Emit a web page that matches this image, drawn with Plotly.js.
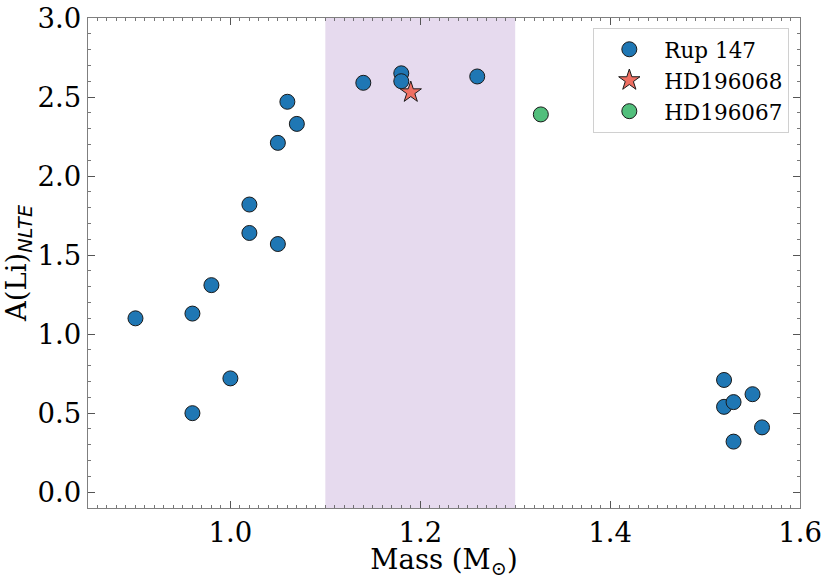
<!DOCTYPE html>
<html>
<head>
<meta charset="utf-8">
<script src="https://cdn.plot.ly/plotly-3.0.1.min.js"></script>
<style>html,body{margin:0;padding:0;background:#fff;}#chart{width:830px;height:580px;}</style>
</head>
<body>
<div id="chart"></div>
<script>
// Rup 147 members
const rupMass = [0.90, 0.96, 0.96, 0.98, 1.00, 1.02, 1.02, 1.05, 1.05, 1.06, 1.07, 1.14, 1.18, 1.18, 1.26, 1.52, 1.52, 1.53, 1.53, 1.55, 1.56];
const rupLi   = [1.10, 1.13, 0.50, 1.31, 0.72, 1.82, 1.64, 1.57, 2.21, 2.47, 2.33, 2.59, 2.65, 2.60, 2.63, 0.71, 0.54, 0.57, 0.32, 0.62, 0.41];
// HD196068
const hd68Mass = [1.19];
const hd68Li   = [2.53];
// HD196067
const hd67Mass = [1.327];
const hd67Li   = [2.39];
// shaded mass band
const bandMass = [1.1, 1.3];
const seriesNames = ["Rup 147", "HD196068", "HD196067"];

const serif = "DejaVu Serif, serif";
const edge = {color: "#1a1a1a", width: 1};

const traces = [
  {x: rupMass, y: rupLi, type: "scatter", mode: "markers", name: seriesNames[0],
   marker: {symbol: "circle", size: 15, color: "#1f77b4", line: edge}},
  {x: hd68Mass, y: hd68Li, type: "scatter", mode: "markers", name: seriesNames[1],
   marker: {symbol: "star", size: 16, color: "#ef6f62", line: edge}},
  {x: hd67Mass, y: hd67Li, type: "scatter", mode: "markers", name: seriesNames[2],
   marker: {symbol: "circle", size: 15, color: "#52bf7c", line: edge}}
];

const axisCommon = {
  showgrid: false, zeroline: false,
  showline: true, linecolor: "#7f7f7f", linewidth: 1.2,
  mirror: "allticks", ticks: "inside", ticklen: 7, tickwidth: 1, tickcolor: "#555",
  tickfont: {family: serif, size: 27.5, color: "#000"}
};

const layout = {
  width: 830, height: 580,
  margin: {l: 88, r: 30, t: 18, b: 72},
  paper_bgcolor: "#fff", plot_bgcolor: "#fff",
  showlegend: true,
  xaxis: Object.assign({}, axisCommon, {
    range: [0.85, 1.6], tick0: 0, dtick: 0.2, tickformat: ".1f",
    minor: {tick0: 0, dtick: 0.01, ticks: "inside", ticklen: 3, tickwidth: 0.8, tickcolor: "#555"},
    title: {text: "Mass (M<sub>⊙</sub>)", font: {family: serif, size: 27.5, color: "#000"}, standoff: 10}
  }),
  yaxis: Object.assign({}, axisCommon, {
    range: [-0.1, 3.0], tick0: 0, dtick: 0.5, tickformat: ".1f",
    minor: {tick0: 0, dtick: 0.1, ticks: "inside", ticklen: 3, tickwidth: 0.8, tickcolor: "#555"},
    title: {text: "A(Li)<sub><i><span style=\"font-family:'DejaVu Sans'\">NLTE</span></i></sub>", font: {family: serif, size: 27.5, color: "#000"}, standoff: 8}
  }),
  shapes: [{
    type: "rect", xref: "x", yref: "paper", x0: bandMass[0], x1: bandMass[1], y0: 0, y1: 1,
    fillcolor: "#e6daee", line: {width: 0}, layer: "below"
  }],
  legend: {
    x: 0.985, y: 0.98, xanchor: "right", yanchor: "top",
    bgcolor: "rgba(255,255,255,0.85)", bordercolor: "#d0d0d0", borderwidth: 1,
    font: {family: serif, size: 21.5, color: "#000"},
    itemwidth: 60,
    tracegroupgap: 0
  }
};

Plotly.newPlot("chart", traces, layout, {displayModeBar: false, staticPlot: true});
</script>
</body>
</html>
